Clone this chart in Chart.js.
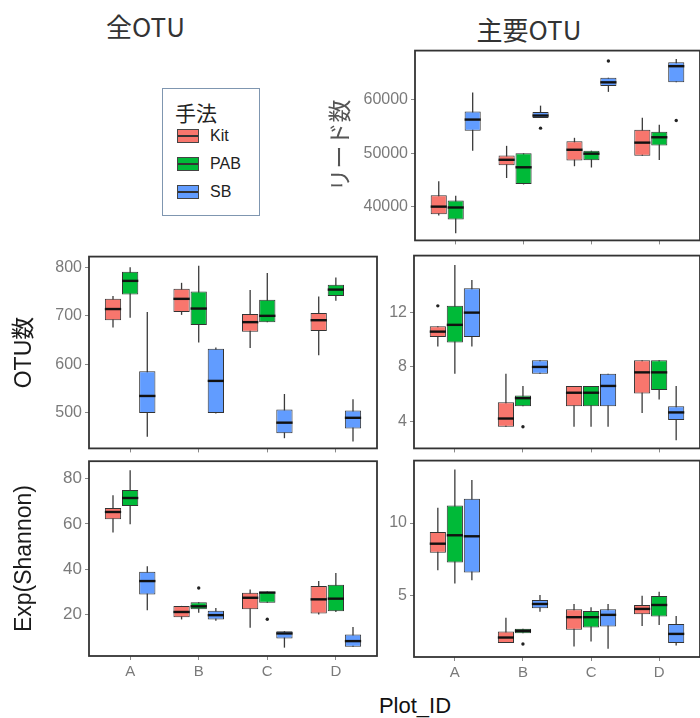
<!DOCTYPE html>
<html><head><meta charset="utf-8">
<script src="https://cdn.jsdelivr.net/npm/chart.js@4.4.1/dist/chart.umd.min.js"></script>
<style>
html,body{margin:0;padding:0;background:#fff;}
#root{position:relative;width:700px;height:718px;overflow:hidden;background:#fff;}
#root canvas{position:absolute;}
.t{position:absolute;white-space:nowrap;line-height:1;}
.key{position:absolute;width:22px;height:14px;box-sizing:border-box;border:1px solid #444;}
.key i{position:absolute;left:0;right:0;top:5px;height:1.5px;background:#333;}
.kl{position:absolute;font:16px 'Liberation Sans',Arial,sans-serif;color:#222;line-height:1;}
</style></head><body><div id="root">
<div class="t" style="left:106px;top:7px;font:26px 'Noto Sans CJK JP',sans-serif;color:#333;">全OTU</div>
<div class="t" style="left:429px;width:200px;text-align:center;top:10px;font:26px 'Noto Sans CJK JP',sans-serif;color:#333;">主要OTU</div>
<div class="t" style="left:315px;width:200px;text-align:center;top:693px;font:22px 'Liberation Sans',Arial,sans-serif;color:#111;">Plot_ID</div>
<div id="legend" style="position:absolute;left:162px;top:88px;width:98px;height:128px;box-sizing:border-box;border:1.5px solid #7f96b0;"></div>
</div>
<script>
// ---- data ----
const categories = ['A', 'B', 'C', 'D'];
const methods = ['Kit', 'PAB', 'SB'];
const legendTitle = '手法';
// each entry: [lower whisker, Q1, median, Q3, upper whisker]
const readsKit = [[38400,38650,40060,42200,44800],[45400,47800,48800,49600,51400],[47600,48650,50670,52270,52900],[49570,49570,52000,54400,56630]];
const readsPAB = [[35100,37670,39900,41200,42100],[44200,44300,47400,50000,50000],[47360,48700,49940,50500,50500],[48770,51470,53000,54050,55340]];
const readsSB  = [[50500,54230,56300,57800,61350],[56600,56600,57050,57700,58900],[61470,62580,63250,64110,64110],[63250,63250,66260,67000,67600]];
const readsOutKit = [];
const readsOutPAB = [];
const readsOutSB = [[1,54700],[2,67240],[3,56130]];
const readsTicks = [40000, 50000, 60000];

const otuKit = [[676,691,714,735,741],[702,708,735,756,768],[634,667,687,704,753],[619,669,691,706,740]];
const otuPAB = [[696,744,772,791,800],[645,681,715,750,803],[687,687,700,733,788],[731,741,754,764,779]];
const otuSB  = [[451,500,535,586,708],[499,500,566,632,635],[448,458,480,507,539],[441,468,490,505,528]];
const otuTicks = [500, 600, 700, 800];

const mainKit = [[9.5,10.2,10.6,11.0,11.0],[3.6,3.6,4.2,5.4,7.5],[3.6,5.1,6.1,6.6,6.6],[4.6,6.05,7.6,8.5,8.5]];
const mainPAB = [[7.5,9.8,11.1,12.5,15.5],[5.1,5.1,5.7,5.9,6.6],[3.6,5.1,6.1,6.6,6.6],[5.6,6.3,7.6,8.5,8.5]];
const mainSB  = [[9.5,10.2,12.0,13.8,14.4],[7.5,7.5,8.0,8.5,8.5],[3.6,5.1,6.6,7.5,7.5],[2.6,4.1,4.65,5.1,6.6]];
const mainOutKit = [[0,12.5]];
const mainOutPAB = [[1,3.6]];
const mainOutSB = [];
const mainTicks = [4, 8, 12];

const shanKit = [[56.2,62.1,65.3,67.1,72.7],[17.7,18.7,21.0,23.7,23.7],[14.0,22.2,27.3,29.5,31.0],[19.9,20.3,26.6,32.5,34.7]];
const shanPAB = [[59.9,68.0,71.5,75.0,83.8],[20.7,22.2,23.5,25.3,25.3],[25.1,25.1,29.6,29.8,30.1],[21.0,21.3,26.9,33.1,38.3]];
const shanSB  = [[21.8,28.7,34.7,38.8,41.3],[17.1,17.7,19.6,21.5,22.8],[5.2,9.3,11.5,12.5,12.5],[5.6,5.6,8.1,11.0,14.4]];
const shanOutKit = [];
const shanOutPAB = [[1,31.6],[2,17.8]];
const shanOutSB = [];
const shanTicks = [20, 40, 60, 80];

const smKit = [[6.76,7.95,8.58,9.38,11.05],[1.74,1.74,2.12,2.53,3.49],[1.51,2.65,3.52,4.06,4.43],[2.92,3.72,4.09,4.36,5.0]];
const smPAB = [[5.84,7.28,9.16,11.21,13.68],[2.42,2.42,2.58,2.72,2.72],[1.85,2.81,3.52,3.95,4.2],[2.99,3.56,4.36,4.98,5.27]];
const smSB  = [[6.07,6.6,9.09,11.67,12.97],[3.9,4.13,4.43,4.7,5.05],[1.35,2.88,3.68,4.06,4.43],[1.58,1.74,2.37,3.06,3.61]];
const smOutKit = [];
const smOutPAB = [[1,1.67]];
const smOutSB = [];
const smTicks = [5, 10];

// ---- styles ----
const methodColors = ['#F8766D', '#00BA38', '#619CFF'];
const tickGray = '#7a7a7a';

// ---- legend (html) ----
(function(){
  const lg = document.getElementById('legend');
  const t = document.createElement('div');
  t.className = 't';
  t.style.cssText = "left:12px;top:8px;font:21px 'Noto Sans CJK JP',sans-serif;color:#222;";
  t.textContent = legendTitle;
  lg.appendChild(t);
  methods.forEach((m, k) => {
    const key = document.createElement('div');
    key.className = 'key';
    key.style.left = '14px';
    key.style.top = (40 + k * 28) + 'px';
    key.style.background = methodColors[k];
    key.appendChild(document.createElement('i'));
    lg.appendChild(key);
    const lab = document.createElement('div');
    lab.className = 'kl';
    lab.style.left = '47px';
    lab.style.top = (39 + k * 28) + 'px';
    lab.textContent = m;
    lg.appendChild(lab);
  });
})();

// ---- boxplot plugin ----
const boxPlugin = {
  id: 'boxplot',
  beforeDatasetsDraw(chart) {
    const ctx = chart.ctx, ys = chart.scales.y;
    ctx.save();
    ctx.strokeStyle = '#3a3a3a';
    ctx.lineWidth = 1.3;
    chart.data.datasets.forEach((ds, d) => {
      const meta = chart.getDatasetMeta(d);
      meta.data.forEach((el, i) => {
        const s = ds.stats[i];
        ctx.beginPath();
        ctx.moveTo(el.x, ys.getPixelForValue(s[0]));
        ctx.lineTo(el.x, ys.getPixelForValue(s[4]));
        ctx.stroke();
      });
    });
    ctx.restore();
  },
  afterDatasetsDraw(chart) {
    const ctx = chart.ctx, ys = chart.scales.y;
    ctx.save();
    chart.data.datasets.forEach((ds, d) => {
      const meta = chart.getDatasetMeta(d);
      meta.data.forEach((el, i) => {
        const s = ds.stats[i];
        const y = ys.getPixelForValue(s[2]);
        ctx.strokeStyle = '#111';
        ctx.lineWidth = 2.4;
        ctx.beginPath();
        ctx.moveTo(el.x - el.width / 2, y);
        ctx.lineTo(el.x + el.width / 2, y);
        ctx.stroke();
      });
      ds.outliers.forEach(o => {
        const el = meta.data[o[0]];
        ctx.fillStyle = '#222';
        ctx.beginPath();
        ctx.arc(el.x, ys.getPixelForValue(o[1]), 1.7, 0, Math.PI * 2);
        ctx.fill();
      });
    });
    ctx.restore();
  },
  afterDraw(chart) {
    const ctx = chart.ctx, a = chart.chartArea;
    ctx.save();
    ctx.strokeStyle = '#333';
    ctx.lineWidth = 1.8;
    ctx.strokeRect(a.left, a.top, a.right - a.left, a.bottom - a.top);
    ctx.restore();
  }
};

function panel(g) {
  const cv = document.createElement('canvas');
  cv.width = g.w; cv.height = g.h;
  cv.style.left = g.left + 'px'; cv.style.top = g.top + 'px';
  cv.style.width = g.w + 'px'; cv.style.height = g.h + 'px';
  document.getElementById('root').appendChild(cv);
  new Chart(cv, {
    type: 'bar',
    data: {
      datasets: methods.map((m, k) => ({
        label: m,
        data: g.series[k].map((s, i) => ({ x: i, y: [s[1], s[3]] })),
        stats: g.series[k],
        outliers: g.outliers[k],
        backgroundColor: methodColors[k],
        borderColor: '#333',
        borderWidth: 1,
        borderSkipped: false,
        categoryPercentage: 0.75,
        barPercentage: 0.95
      }))
    },
    options: {
      responsive: false, animation: false, events: [],
      layout: { padding: { top: 12, right: g.padRight, left: 0, bottom: 0 } },
      plugins: { legend: { display: false }, tooltip: { enabled: false } },
      scales: {
        x: {
          type: 'linear', min: -0.6, max: 3.6, offset: false,
          afterBuildTicks: s => { s.ticks = categories.map((c, i) => ({ value: i })); },
          ticks: { callback: v => g.showX ? categories[v] : '', color: tickGray, autoSkip: false, maxRotation: 0,
                   font: { family: 'Liberation Sans', size: 15 }, padding: 3 },
          grid: { offset: false, drawOnChartArea: false, tickLength: 4, color: '#888' },
          border: { display: false },
          afterFit: s => { s.height = g.xH; }
        },
        y: {
          min: g.yMin, max: g.yMax,
          afterBuildTicks: s => { s.ticks = g.yTicks.map(v => ({ value: v })); },
          ticks: { callback: v => String(v), color: tickGray, font: { family: 'Liberation Sans', size: g.tickSize || 16 }, padding: 3 },
          grid: { drawOnChartArea: false, tickLength: 4, color: '#888' },
          border: { display: false },
          title: g.title ? { display: true, text: g.title, color: g.titleColor,
                   font: { family: "'Liberation Sans', 'Noto Sans CJK JP'", size: g.titleSize },
                   padding: { top: g.titlePad, bottom: 0 } } : { display: false },
          afterFit: s => { s.width = g.yW; }
        }
      }
    },
    plugins: [boxPlugin]
  });
}

// top right: reads
panel({ left: 320, top: 38, w: 380, h: 215, yW: 95, xH: 10, padRight: 0,
  series: [readsKit, readsPAB, readsSB], outliers: [readsOutKit, readsOutPAB, readsOutSB],
  yMin: 33760, yMax: 69170, yTicks: readsTicks, showX: false,
  title: 'リード数', titleColor: '#555', titleSize: 23, titlePad: 8 });
// middle left: OTU count
panel({ left: 0, top: 244, w: 380, h: 217, yW: 89, xH: 10, padRight: 3,
  series: [otuKit, otuPAB, otuSB], outliers: [[], [], []],
  yMin: 427, yMax: 822, yTicks: otuTicks, showX: false,
  title: 'OTU数', titleColor: '#1a1a1a', titleSize: 23, titlePad: 11 });
// middle right
panel({ left: 320, top: 243, w: 380, h: 218, yW: 94, xH: 10, padRight: 0,
  series: [mainKit, mainPAB, mainSB], outliers: [mainOutKit, mainOutPAB, mainOutSB],
  yMin: 2.0, yMax: 16.2, yTicks: mainTicks, showX: false });
// bottom left: Exp(Shannon)
panel({ left: 0, top: 448, w: 380, h: 238, yW: 89, xH: 30, padRight: 3,
  series: [shanKit, shanPAB, shanSB], outliers: [shanOutKit, shanOutPAB, shanOutSB],
  yMin: 1.5, yMax: 87.8, yTicks: shanTicks, showX: true, tickSize: 17,
  title: 'Exp(Shannon)', titleColor: '#1a1a1a', titleSize: 23, titlePad: 11 });
// bottom right
panel({ left: 320, top: 448, w: 380, h: 239, yW: 94, xH: 30, padRight: 0,
  series: [smKit, smPAB, smSB], outliers: [smOutKit, smOutPAB, smOutSB],
  yMin: 0.78, yMax: 14.3, yTicks: smTicks, showX: true });
</script>
</body></html>
